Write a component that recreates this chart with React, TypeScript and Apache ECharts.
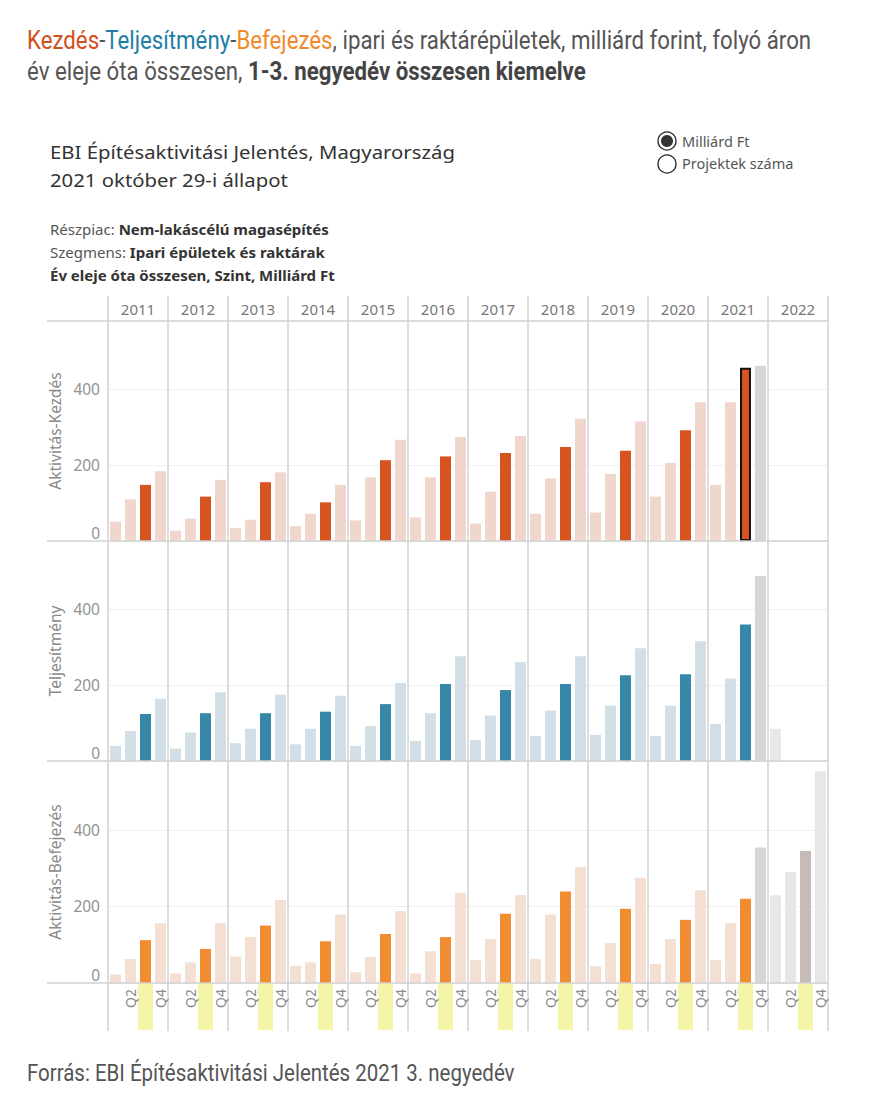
import React, { useEffect, useRef } from "react";
import * as echarts from "echarts";

// ---------- DATA ----------
const years = ["2011", "2012", "2013", "2014", "2015", "2016", "2017", "2018", "2019", "2020", "2021", "2022"];
const quarters = ["Q1", "Q2", "Q3", "Q4"];
const highlightQuarter = "Q3";
const partialYear = "2021";
const forecastYear = "2022";
const yTicks = [0, 200, 400];

// Aktivitás-Kezdés (Q1..Q4 per year)
const kezdes = [
  51, 110, 148, 184,
  27, 59, 117, 161,
  34, 56, 155, 181,
  39, 72, 102, 148,
  54, 168, 213, 267,
  62, 168, 223, 274,
  46, 130, 232, 277,
  72, 165, 248, 322,
  75, 177, 238, 315,
  117, 206, 292, 366,
  148, 366, 457, 462,
  null, null, null, null,
];
// Teljesítmény
const teljesitmeny = [
  40, 79, 124, 164,
  33, 75, 126, 181,
  47, 85, 126, 175,
  44, 85, 130, 172,
  40, 92, 150, 206,
  53, 126, 203, 276,
  55, 120, 187, 261,
  66, 133, 203, 276,
  69, 146, 226, 297,
  66, 146, 229, 316,
  98, 217, 360, 488,
  85, null, null, null,
];
// Aktivitás-Befejezés
const befejezes = [
  22, 63, 112, 156,
  25, 54, 89, 156,
  69, 120, 150, 217,
  45, 54, 109, 179,
  28, 68, 128, 188,
  25, 83, 120, 236,
  60, 115, 181, 230,
  63, 179, 239, 303,
  44, 105, 194, 275,
  50, 115, 165, 242,
  60, 156, 220, 354,
  229, 290, 345, 553,
];

const panelNames = ["Aktivitás-Kezdés", "Teljesítmény", "Aktivitás-Befejezés"];
const panelValues = [kezdes, teljesitmeny, befejezes];

// ---------- STYLE ----------
const panelColors = [
  { dark: "#D6541F", light: "#F0D6CD", partial: "#D6D6D8", fLight: "#E8E8E8", fDark: "#C5BCB8" },
  { dark: "#3787A8", light: "#D2DFE6", partial: "#D6D6D8", fLight: "#E8E8E8", fDark: "#C5BCB8" },
  { dark: "#F28C31", light: "#F4E0D2", partial: "#D6D6D8", fLight: "#E9E7E6", fDark: "#C5BCB8" },
];

const categories = years.flatMap((y) => quarters.map((q) => `${y} ${q}`));

const LEFT = 108;
const WIDTH = 720;
const panelTops = [321, 541, 761];
const panelHeights = [220, 220, 222];
const YMAX = 580;
const FONT = "'Noto Sans', 'Open Sans', sans-serif";
const TITLE_FS = 25;
const TITLE_SX = 0.89;

function buildData(pi: number) {
  const vals = panelValues[pi];
  const c = panelColors[pi];
  return vals.map((v, i) => {
    const y = years[Math.floor(i / 4)];
    const q = quarters[i % 4];
    let color = q === highlightQuarter ? c.dark : c.light;
    if (y === partialYear && q === "Q4") color = c.partial;
    if (y === forecastYear) color = q === highlightQuarter ? c.fDark : c.fLight;
    const item: any = { value: v, itemStyle: { color } };
    if (pi === 0 && y === partialYear && q === highlightQuarter) {
      item.itemStyle = { color, borderColor: "#111", borderWidth: 2 };
    }
    return item;
  });
}

export default function App() {
  const ref = useRef<HTMLDivElement>(null);
  useEffect(() => {
    if (!ref.current) return;
    const chart = echarts.init(ref.current, null, { renderer: "svg" });

    const grids: any[] = [
      { left: LEFT, top: 296, width: WIDTH, height: 25 }, // header
      { left: LEFT, top: 296, width: WIDTH, height: 735 }, // frame
      ...panelTops.map((t, i) => ({ left: LEFT, top: t, width: WIDTH, height: panelHeights[i] })),
      { left: LEFT, top: 983, width: WIDTH, height: 47 }, // highlight band
    ];

    const xAxes: any[] = [
      {
        gridIndex: 0, type: "category", data: years, position: "bottom",
        axisLine: { show: false }, axisTick: { show: false }, splitLine: { show: false },
        axisLabel: { inside: true, margin: 12, verticalAlign: "middle", color: "#777", fontSize: 15, fontFamily: FONT },
      },
      {
        gridIndex: 1, type: "value", min: 0, max: years.length, interval: 1,
        axisLine: { show: false }, axisTick: { show: false }, axisLabel: { show: false },
        splitLine: { show: true, lineStyle: { color: "#d2d2d2", width: 1.5 } },
      },
      ...panelTops.map((_, i) => ({
        gridIndex: 2 + i, type: "category", data: categories, z: 5,
        axisLine: { show: false }, axisTick: { show: false }, splitLine: { show: false },
        axisLabel: i === 2
          ? {
              show: true, rotate: 90, margin: 6, color: "#8a8a8a", fontSize: 14, fontFamily: FONT,
              interval: (idx: number) => idx % 2 === 1,
              formatter: (v: string) => v.split(" ")[1],
            }
          : { show: false },
      })),
      {
        gridIndex: 5, type: "category", data: categories, show: false,
      },
    ];

    const yAxes: any[] = [
      { gridIndex: 0, type: "value", show: false },
      { gridIndex: 1, type: "value", show: false, min: 0, max: 1 },
      ...panelTops.map((_, i) => ({
        gridIndex: 2 + i, type: "value", min: 0, max: YMAX, interval: 200,
        name: panelNames[i], nameLocation: "middle", nameGap: 37,
        nameTextStyle: { color: "#8a8a8a", fontSize: 15.5, fontFamily: FONT },
        axisLine: { show: false }, axisTick: { show: false },
        axisLabel: {
          color: "#929292", fontSize: 15.5, fontFamily: FONT, margin: 8,
          verticalAlignMinLabel: "bottom",
          showMaxLabel: false,
          formatter: (v: number) => (yTicks.includes(v) ? String(v) : ""),
        },
        splitLine: { show: true, showMaxLine: false, lineStyle: { color: "#f0f0f0", width: 1 } },
      })),
      { gridIndex: 5, type: "value", show: false, min: 0, max: 1 },
    ];

    const series: any[] = [
      ...panelTops.map((_, i) => ({
        type: "bar", xAxisIndex: 2 + i, yAxisIndex: 2 + i, data: buildData(i),
        barCategoryGap: "27%", z: 3,
      })),
      {
        type: "bar", xAxisIndex: 5, yAxisIndex: 5, z: 1,
        data: categories.map((c) => (c.endsWith(highlightQuarter) ? 1 : 0)),
        barCategoryGap: "0%", itemStyle: { color: "#F5F5A9" },
      },
    ];

    const sepLine = (y: number) => ({
      type: "line", shape: { x1: 47, y1: y, x2: LEFT + WIDTH, y2: y },
      style: { stroke: "#d2d2d2", lineWidth: 1.5 }, z: 10,
    });

    const rt = (fill: string, extra: any = {}) => ({ fill, fontSize: TITLE_FS, fontFamily: "Roboto", ...extra });

    const graphic: any[] = [
      {
        type: "text", x: 27, y: 41, scaleX: TITLE_SX,
        style: {
          text: "{k|Kezdés}{g|-}{t|Teljesítmény}{g|-}{b|Befejezés}{g|, ipari és raktárépületek, milliárd forint, folyó áron}",
          fontSize: TITLE_FS, fontFamily: "Roboto", verticalAlign: "middle",
          rich: { k: rt("#D24F1E"), t: rt("#1E7EA6"), b: rt("#F2892B"), g: rt("#555555") },
        },
      },
      {
        type: "text", x: 27, y: 72, scaleX: TITLE_SX,
        style: {
          text: "{g|év eleje óta összesen, }{bb|1-3. negyedév összesen kiemelve}",
          fontSize: TITLE_FS, fontFamily: "Roboto", verticalAlign: "middle",
          rich: { g: rt("#555555"), bb: rt("#444444", { fontWeight: "bold" }) },
        },
      },
      {
        type: "text", x: 50, y: 152, scaleX: 1.07,
        style: { text: "EBI Építésaktivitási Jelentés, Magyarország", fill: "#333", fontSize: 19, fontFamily: FONT, verticalAlign: "middle" },
      },
      {
        type: "text", x: 50, y: 180, scaleX: 1.07,
        style: { text: "2021 október 29-i állapot", fill: "#333", fontSize: 19, fontFamily: FONT, verticalAlign: "middle" },
      },
      {
        type: "text", x: 50, y: 229,
        style: {
          text: "{n|Részpiac: }{b|Nem-lakáscélú magasépítés}", fontSize: 15, fontFamily: FONT, verticalAlign: "middle",
          rich: { n: { fill: "#555", fontSize: 15, fontFamily: FONT }, b: { fill: "#333", fontSize: 15, fontFamily: FONT, fontWeight: "bold" } },
        },
      },
      {
        type: "text", x: 50, y: 252,
        style: {
          text: "{n|Szegmens: }{b|Ipari épületek és raktárak}", fontSize: 15, fontFamily: FONT, verticalAlign: "middle",
          rich: { n: { fill: "#555", fontSize: 15, fontFamily: FONT }, b: { fill: "#333", fontSize: 15, fontFamily: FONT, fontWeight: "bold" } },
        },
      },
      {
        type: "text", x: 50, y: 275,
        style: { text: "Év eleje óta összesen, Szint, Milliárd Ft", fill: "#333", fontSize: 15, fontFamily: FONT, fontWeight: "bold", verticalAlign: "middle" },
      },
      { type: "circle", shape: { cx: 667, cy: 141, r: 9 }, style: { fill: "#fff", stroke: "#222", lineWidth: 1.3 } },
      { type: "circle", shape: { cx: 667, cy: 141, r: 6 }, style: { fill: "#333" } },
      { type: "circle", shape: { cx: 667, cy: 164, r: 9 }, style: { fill: "#fff", stroke: "#222", lineWidth: 1.3 } },
      { type: "text", x: 682, y: 141, style: { text: "Milliárd Ft", fill: "#555", fontSize: 14.5, fontFamily: FONT, verticalAlign: "middle" } },
      { type: "text", x: 682, y: 163, style: { text: "Projektek száma", fill: "#555", fontSize: 14.5, fontFamily: FONT, verticalAlign: "middle" } },
      sepLine(321),
      sepLine(541),
      sepLine(761),
      sepLine(983),
      {
        type: "text", x: 27, y: 1073, scaleX: TITLE_SX,
        style: { text: "Forrás: EBI Építésaktivitási Jelentés 2021 3. negyedév", fill: "#555", fontSize: 23, fontFamily: "Roboto", verticalAlign: "middle" },
      },
    ];

    chart.setOption({
      animation: false,
      backgroundColor: "#ffffff",
      grid: grids,
      xAxis: xAxes,
      yAxis: yAxes,
      series,
      graphic,
    });
    return () => chart.dispose();
  }, []);

  return (
    <div
      ref={ref}
      style={{ position: "absolute", left: 0, top: 0, width: 876, height: 1115, background: "#fff" }}
    />
  );
}
